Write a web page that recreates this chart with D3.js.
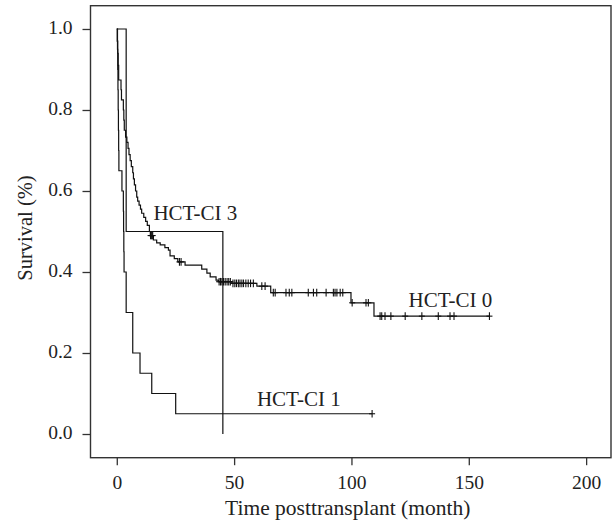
<!DOCTYPE html>
<html lang="en">
<head>
    <meta charset="UTF-8">
    <title>Survival by HCT-CI</title>
    <script src="https://d3js.org/d3.v7.min.js"></script>
    <style>
        body { margin: 0; background: #fff; }
        text { font-family: "Liberation Serif", "DejaVu Serif", serif; fill: #222; }
    </style>
</head>
<body>
    <svg width="614" height="527"></svg>

    <script>
        // Kaplan-Meier steps: time of drop (month) and survival after it
        const hct0Time = [0.2, 0.4, 0.6, 0.8, 1.8, 2.0, 2.8, 3.0, 3.2, 3.75, 4.3, 4.8, 5.2, 5.7, 6.2,
            6.8, 7.1, 7.5, 8.0, 8.5, 8.9, 9.5, 10.1, 10.6, 11.5, 12.3, 13.0, 13.9, 14.3, 15.6, 17.0,
            18.5, 20.5, 22.0, 22.7, 24.5, 26.0, 29.1, 36.2, 38.4, 39.8, 42.3, 43.3, 49.0, 59.7,
            65.6, 99.8, 109.6];
        const hct0Surv = [0.97, 0.94, 0.91, 0.874, 0.85, 0.825, 0.8, 0.775, 0.75, 0.733, 0.72, 0.705,
            0.69, 0.675, 0.66, 0.645, 0.63, 0.615, 0.6, 0.585, 0.575, 0.565, 0.555, 0.545, 0.535,
            0.525, 0.515, 0.5, 0.49, 0.479, 0.472, 0.467, 0.46, 0.454, 0.44, 0.433, 0.425, 0.417,
            0.407, 0.397, 0.388, 0.38, 0.376, 0.372, 0.365, 0.349, 0.324, 0.291];
        const hct0Censor = [14.4, 14.7, 15.0, 15.3, 26.7, 27.4, 43.6, 44.2, 44.8, 45.5, 46.2, 47.0,
            47.7, 48.4, 49.5, 50.3, 51.0, 51.8, 52.5, 53.3, 54.0, 55.0, 56.0, 57.0, 58.2, 61.8,
            63.2, 66.7, 67.5, 72.1, 73.5, 74.6, 81.6, 83.8, 85.2, 89.2, 92.3, 93.0, 93.8, 95.2,
            96.3, 100.3, 106.2, 107.2, 112.2, 112.9, 114.3, 116.8, 122.9, 130.0, 137.0, 142.0,
            143.7, 158.8];

        const hct1Time = [0.3, 0.4, 0.5, 0.6, 0.7, 0.8, 0.9, 2.2, 2.8, 2.9, 3.0, 3.1, 4.0, 6.8, 9.9, 14.9, 25.1];
        const hct1Surv = [0.95, 0.9, 0.85, 0.8, 0.75, 0.7, 0.65, 0.6, 0.55, 0.5, 0.45, 0.4, 0.3, 0.2, 0.15, 0.1, 0.05];
        const hct1Censor = [108.8];

        const hct3Time = [4.0, 45.2];
        const hct3Surv = [0.5, 0.0];
        const hct3Censor = [];

        const groupNames = ["HCT-CI 0", "HCT-CI 1", "HCT-CI 3"];
        const xTicks = [0, 50, 100, 150, 200];
        const yTicks = [0.0, 0.2, 0.4, 0.6, 0.8, 1.0];

        const svg = d3.select("svg");
        const box = { left: 90.5, right: 611, top: 5.7, bottom: 457.7 };

        const x = d3.scaleLinear().domain([-11.2, 210.6]).range([box.left, box.right]);
        const y = d3.scaleLinear().domain([-0.0585, 1.0575]).range([box.bottom, box.top]);

        // frame
        svg.append("rect")
            .attr("x", box.left).attr("y", box.top)
            .attr("width", box.right - box.left).attr("height", box.bottom - box.top)
            .attr("fill", "none").attr("stroke", "#333").attr("stroke-width", 1.4);

        // axes
        const xAxis = svg.append("g")
            .attr("transform", `translate(0, ${box.bottom})`)
            .call(d3.axisBottom(x).tickValues(xTicks).tickSize(7.5).tickPadding(10));
        const yAxis = svg.append("g")
            .attr("transform", `translate(${box.left}, 0)`)
            .call(d3.axisLeft(y).tickValues(yTicks).tickFormat(d3.format(".1f")).tickSize(8).tickPadding(10));

        [xAxis, yAxis].forEach(g => {
            g.select(".domain").remove();
            g.selectAll(".tick line").attr("stroke", "#333").attr("stroke-width", 1.3);
            g.selectAll(".tick text")
                .style("font-family", '"Liberation Serif", serif')
                .style("font-size", "19.5px")
                .attr("fill", "#222");
        });
        yAxis.selectAll(".tick text").attr("dy", "0.24em");

        // survival curves
        const groups = [
            { name: groupNames[0], time: hct0Time, surv: hct0Surv, censor: hct0Censor, end: 158.8 },
            { name: groupNames[1], time: hct1Time, surv: hct1Surv, censor: hct1Censor, end: 108.8 },
            { name: groupNames[2], time: hct3Time, surv: hct3Surv, censor: hct3Censor, end: null }
        ];

        const line = d3.line()
            .x(d => x(d[0]))
            .y(d => y(d[1]))
            .curve(d3.curveStepAfter);

        function survAt(g, t) {
            let s = 1;
            g.time.forEach((tt, i) => { if (tt <= t) s = g.surv[i]; });
            return s;
        }

        groups.forEach(g => {
            const pts = [[0, 1]].concat(g.time.map((t, i) => [t, g.surv[i]]));
            if (g.end !== null) pts.push([g.end, g.surv[g.surv.length - 1]]);

            svg.append("path")
                .datum(pts)
                .attr("d", line)
                .attr("fill", "none")
                .attr("stroke", "#111")
                .attr("stroke-width", 1.2);

            const marks = svg.append("g").attr("stroke", "#111").attr("stroke-width", 1.1);
            g.censor.forEach(t => {
                const cx = x(t), cy = y(survAt(g, t));
                marks.append("line").attr("x1", cx).attr("x2", cx).attr("y1", cy - 3.8).attr("y2", cy + 3.8);
                marks.append("line").attr("x1", cx - 3).attr("x2", cx + 3).attr("y1", cy).attr("y2", cy);
            });
        });

        // curve labels (anchored in data units)
        const labelAnchors = [[124.3, 0.314], [59.7, 0.07], [15.6, 0.528]];
        svg.selectAll("text.curve-label")
            .data(groupNames)
            .enter().append("text")
            .attr("class", "curve-label")
            .attr("x", (d, i) => x(labelAnchors[i][0]))
            .attr("y", (d, i) => y(labelAnchors[i][1]))
            .style("font-size", "21px")
            .text(d => d);

        // axis titles
        svg.append("text")
            .attr("x", (box.left + box.right) / 2 - 3)
            .attr("y", 515)
            .attr("text-anchor", "middle")
            .style("font-size", "21.5px")
            .text("Time posttransplant (month)");

        svg.append("text")
            .attr("transform", "translate(31.5, 228) rotate(-90)")
            .attr("text-anchor", "middle")
            .style("font-size", "20.5px")
            .text("Survival (%)");
    </script>
</body>
</html>
